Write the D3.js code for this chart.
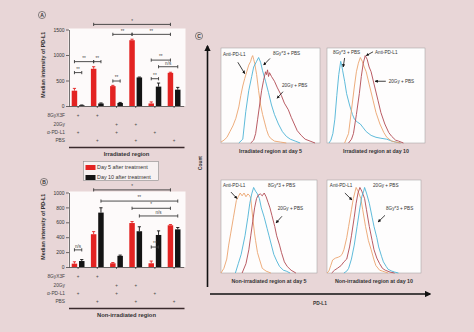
<!DOCTYPE html>
<html>
<head>
<meta charset="utf-8">
<script src="https://cdn.jsdelivr.net/npm/d3@7"></script>
<style>
    body { margin: 0; background: #e8d6d7; }
    svg { display: block; font-family: "Liberation Sans", Arial, sans-serif; }
    .axis text { font-size: 5px; fill: #333; }
    .axis path, .axis line { stroke: #333; stroke-width: 0.7; }
</style>
</head>
<body>
<div id="chart"></div>
<script>

// ---- bar panels (A: irradiated, B: non-irradiated) ----
const groups = ["g1", "g2", "g3", "g4", "g5", "g6"];
const seriesKeys = ["d5", "d10"];
const seriesNames = ["Day 5 after treatment", "Day 10 after treatment"];

const irrDay5 = [300, 730, 390, 1290, 50, 650];
const irrDay10 = [15, 50, 60, 560, 380, 320];
const irrErr5 = [45, 40, 15, 20, 30, 12];
const irrErr10 = [5, 10, 10, 8, 70, 45];
const irrTicks = [0, 500, 1000, 1500];

const nonDay5 = [45, 440, 50, 590, 50, 560];
const nonDay10 = [80, 730, 150, 480, 430, 505];
const nonErr5 = [25, 35, 10, 20, 30, 10];
const nonErr10 = [20, 65, 10, 60, 55, 25];
const nonTicks = [0, 200, 400, 600, 800, 1000];

const treatRows = ["8GyX3F", "20Gy", "\u03b1-PD-L1", "PBS"];
const treatMarks = [
    [1, 1, 0, 0, 0, 0],
    [0, 0, 1, 1, 0, 0],
    [1, 0, 1, 0, 1, 0],
    [0, 1, 0, 1, 0, 1]
];

// [group, series, group, series, level, label]
const irrBrackets = [
    [1, 0, 5, 0, 1600, "*"],
    [2, 0, 3, 0, 1405, "**"],
    [3, 0, 5, 0, 1405, "**"],
    [0, 0, 1, 0, 870, "**"],
    [1, 0, 1, 1, 870, "**"],
    [4, 0, 5, 0, 900, "**"],
    [4, 1, 5, 1, 770, "n/s"],
    [0, 0, 0, 1, 655, "**"],
    [4, 0, 4, 1, 535, "**"],
    [2, 0, 2, 1, 490, "**"]
];
const nonBrackets = [
    [1, 0, 5, 0, 1035, "*"],
    [1, 1, 5, 1, 885, "**"],
    [3, 0, 5, 0, 788, "*"],
    [3, 1, 5, 1, 685, "n/s"],
    [4, 0, 4, 1, 268, "**"],
    [0, 0, 0, 1, 230, "n/s"]
];

// ---- histogram panel C: [x, count] on 0-100 scales ----
const irr5Anti = [[0,1],[3,3],[6,6],[9,12],[12,18],[15,26],[18,38],[20,50],[22,60],[24,68],[26,75],[28,82],[30,86],[31,90],[32,92],[33,88],[34,84],[36,72],[38,55],[40,40],[42,30],[44,22],[46,14],[48,8],[50,5],[54,2],[60,1],[66,0]];
const irr5Gy8 = [[18,0],[22,4],[25,33],[28,55],[31,70],[33,80],[36,86],[38,90],[40,85],[42,76],[45,65],[48,53],[51,40],[54,30],[58,20],[62,12],[66,7],[70,4],[75,2],[80,0]];
const irr5Gy20 = [[30,0],[33,3],[35,10],[37,25],[39,40],[41,55],[43,66],[45,75],[46,72],[47,77],[48,70],[49,74],[51,70],[54,65],[57,58],[61,50],[64,42],[68,35],[71,27],[74,20],[77,13],[81,8],[85,4],[90,2],[95,0]];

const irr10Gy8 = [[2,0],[4,3],[6,10],[8,25],[10,50],[12,72],[14,86],[15,82],[16,76],[18,65],[20,52],[23,40],[26,30],[28,25],[31,22],[34,20],[37,16],[40,12],[45,8],[50,6],[55,5],[61,4],[66,2],[70,1],[75,0]];
const irr10Anti = [[18,0],[22,10],[25,35],[28,60],[30,75],[32,84],[34,90],[36,86],[38,80],[40,75],[43,62],[47,45],[50,32],[54,20],[58,11],[61,6],[66,2],[70,1],[75,0]];
const irr10Gy20 = [[22,0],[25,4],[27,10],[30,30],[33,52],[35,70],[37,84],[39,92],[41,88],[43,80],[45,75],[48,62],[52,45],[55,32],[59,20],[63,11],[66,7],[70,3],[73,2],[78,0]];

const non5Anti = [[0,0],[3,5],[6,15],[8,30],[10,42],[13,60],[16,78],[18,82],[20,86],[22,83],[24,86],[26,82],[28,85],[30,83],[31,80],[33,60],[35,42],[36,35],[38,22],[40,15],[43,5],[47,2],[52,0]];
const non5Gy8 = [[15,0],[18,10],[21,20],[25,40],[28,60],[30,75],[32,85],[34,92],[36,88],[38,85],[40,80],[42,70],[45,60],[48,48],[50,40],[53,28],[55,20],[58,13],[61,7],[65,3],[68,2],[72,0]];
const non5Gy20 = [[22,0],[26,10],[29,25],[31,40],[33,55],[35,70],[37,80],[39,84],[41,85],[43,83],[45,86],[47,82],[49,76],[51,70],[53,62],[56,50],[58,40],[61,30],[63,22],[66,12],[69,7],[73,3],[78,0]];

const non10Anti = [[0,0],[2,2],[4,8],[6,14],[9,16],[12,17],[14,18],[16,20],[18,25],[21,38],[23,50],[26,68],[28,80],[30,88],[31,92],[33,88],[36,80],[38,68],[41,50],[44,35],[47,25],[50,14],[52,8],[56,3],[59,2],[65,0]];
const non10Gy20 = [[5,0],[8,3],[11,5],[15,8],[18,12],[21,15],[24,28],[26,40],[29,60],[31,75],[33,86],[35,92],[37,88],[40,80],[42,68],[45,50],[48,35],[50,25],[53,16],[56,10],[59,5],[62,3],[67,1],[72,0]];
const non10Gy8 = [[18,0],[21,2],[23,5],[26,15],[29,30],[32,50],[35,70],[37,82],[39,88],[40,92],[42,86],[45,75],[48,60],[50,50],[53,38],[55,28],[58,18],[60,12],[63,7],[65,4],[69,2],[72,1],[76,0]];

// curve labels: [text, x, y, arrowFromX, arrowFromY, arrowToX, arrowToY] in panel units
const irr5Labels = [["Anti-PD-L1", 2, 92, 17, 85, 24, 73], ["8Gy*3 + PBS", 52.5, 93, 49.5, 89, 43, 82], ["20Gy + PBS", 61.6, 59, 62.6, 54, 56.6, 47]];
const irr10Labels = [["8Gy*3 + PBS", 6, 93.5, 18, 89.5, 16.5, 80], ["Anti-PD-L1", 49, 93.5, 47, 96, 40, 92], ["20Gy + PBS", 63, 63, 60, 65, 49, 65]];
const non5Labels = [["Anti-PD-L1", 2, 92.5, 10.4, 87, 16.7, 80], ["8Gy*3 + PBS", 49, 92.5], ["20Gy + PBS", 59, 68, 63.5, 61, 57.3, 53.8]];
const non10Labels = [["Anti-PD-L1", 3, 92.5, 19, 86, 26.6, 78.5], ["20Gy + PBS", 49, 92.5], ["8Gy*3 + PBS", 62.8, 68, 61.7, 62, 54.3, 54.8]];

const colors = { d5: "#e32322", d10: "#141414", anti: "#eba46e", gy8: "#4db3d6", gy20: "#b14a52" };

const svg = d3.select("#chart").append("svg")
    .attr("width", 474)
    .attr("height", 332);

svg.append("defs").append("marker")
    .attr("id", "arr")
    .attr("viewBox", "0 0 10 10")
    .attr("refX", 9).attr("refY", 5)
    .attr("markerWidth", 4).attr("markerHeight", 4)
    .attr("orient", "auto")
    .append("path")
    .attr("d", "M0,0 L10,5 L0,10 z")
    .attr("fill", "#111");

function circleLetter(x, y, letter) {
    svg.append("circle").attr("cx", x).attr("cy", y).attr("r", 3.6)
        .attr("fill", "none").attr("stroke", "#444").attr("stroke-width", 0.6);
    svg.append("text").attr("x", x).attr("y", y + 1.8)
        .attr("text-anchor", "middle").attr("font-size", 5).attr("font-weight", "bold")
        .attr("fill", "#333").text(letter);
}

function drawBars(cfg) {
    let x = d3.scaleBand().domain(groups).range([68.5, 183.7]);
    let xs = d3.scaleBand().domain(seriesKeys).range([3.2, 16]).paddingInner(0.25);
    let y = d3.scaleLinear().domain([0, cfg.ticks[cfg.ticks.length - 1]]).range([cfg.bottom, cfg.top]);

    let g = svg.append("g");

    g.append("rect")
        .attr("x", 68.5).attr("y", cfg.top - 1)
        .attr("width", 117).attr("height", cfg.bottom - cfg.top + 1)
        .attr("fill", "#fdfafa");

    let rows = [];
    groups.forEach((gr, i) => {
        rows.push({ g: gr, s: "d5", v: cfg.d5[i], e: cfg.e5[i] });
        rows.push({ g: gr, s: "d10", v: cfg.d10[i], e: cfg.e10[i] });
    });
    let cx = d => x(d.g) + xs(d.s) + xs.bandwidth() / 2;

    // error bars (upper half)
    g.selectAll(".err").data(rows).enter().append("path")
        .attr("d", d => {
            let c = cx(d), t = y(d.v + d.e);
            return `M${c},${y(d.v)}V${t}M${c - 1.6},${t}H${c + 1.6}`;
        })
        .attr("stroke", d => colors[d.s]).attr("stroke-width", 0.9).attr("fill", "none");

    g.selectAll(".bar").data(rows).enter().append("rect")
        .attr("x", d => x(d.g) + xs(d.s))
        .attr("y", d => y(d.v))
        .attr("width", xs.bandwidth())
        .attr("height", d => cfg.bottom - y(d.v))
        .attr("fill", d => colors[d.s]);

    g.append("g").attr("class", "axis")
        .attr("transform", `translate(69,0)`)
        .call(d3.axisLeft(y).tickValues(cfg.ticks).tickFormat(d3.format("d"))
            .tickSize(3).tickPadding(1.5).tickSizeOuter(0));

    g.append("g").attr("class", "axis")
        .attr("transform", `translate(0,${cfg.bottom})`)
        .call(d3.axisBottom(x).tickSize(2).tickFormat("").tickSizeOuter(0));

    g.append("text")
        .attr("transform", `translate(45,${(cfg.top + cfg.bottom) / 2 - 3}) rotate(-90)`)
        .attr("text-anchor", "middle").attr("font-size", 5.4).attr("font-weight", "bold")
        .attr("fill", "#333").text("Median intensity of PD-L1");

    // significance brackets
    let bx = (gi, si) => x(groups[gi]) + xs(seriesKeys[si]) + xs.bandwidth() / 2;
    cfg.brackets.forEach(b => {
        let x1 = bx(b[0], b[1]), x2 = bx(b[2], b[3]), by = y(b[4]);
        g.append("path")
            .attr("d", `M${x1},${by - 1.6}V${by + 1.6}M${x1},${by}H${x2}M${x2},${by - 1.6}V${by + 1.6}`)
            .attr("stroke", "#3a3a3a").attr("stroke-width", 0.9).attr("fill", "none");
        g.append("text")
            .attr("x", (x1 + x2) / 2).attr("y", by - 1.8)
            .attr("text-anchor", "middle").attr("font-size", 4.6)
            .attr("fill", "#444").text(b[5]);
    });

    // treatment table
    treatRows.forEach((r, ri) => {
        let ry = cfg.bottom + 9.5 + ri * 8.4;
        g.append("text").attr("x", 65).attr("y", ry + 1.7)
            .attr("text-anchor", "end").attr("font-size", 4.8).attr("fill", "#444").text(r);
        g.selectAll(null).data(groups.filter((gr, i) => treatMarks[ri][i])).enter()
            .append("text")
            .attr("x", d => x(d) + x.bandwidth() / 2)
            .attr("y", ry + 1.6)
            .attr("text-anchor", "middle").attr("font-size", 4.5).attr("fill", "#444")
            .text("+");
    });

    g.append("line")
        .attr("x1", 69).attr("x2", 184.5)
        .attr("y1", cfg.bottom + 41.5).attr("y2", cfg.bottom + 41.5)
        .attr("stroke", "#3a2a2c").attr("stroke-width", 1.3);
    g.append("text")
        .attr("x", 126.5).attr("y", cfg.bottom + 50)
        .attr("text-anchor", "middle").attr("font-size", 5.8).attr("font-weight", "bold")
        .attr("fill", "#333").text(cfg.region);
}

drawBars({ top: 29.5, bottom: 106, ticks: irrTicks, d5: irrDay5, d10: irrDay10, e5: irrErr5, e10: irrErr10,
    brackets: irrBrackets, region: "Irradiated region" });
drawBars({ top: 192.5, bottom: 267, ticks: nonTicks, d5: nonDay5, d10: nonDay10, e5: nonErr5, e10: nonErr10,
    brackets: nonBrackets, region: "Non-irradiated region" });

circleLetter(42, 15, "A");
circleLetter(44, 182, "B");
circleLetter(199, 36, "C");

// legend
let legend = svg.append("g").attr("transform", "translate(83.5,161.5)");
legend.append("rect").attr("width", 75).attr("height", 19)
    .attr("fill", "#f7f1f1").attr("stroke", "#8a8a8a").attr("stroke-width", 0.6);
seriesKeys.forEach((k, i) => {
    legend.append("rect").attr("x", 2).attr("y", 3.5 + i * 10).attr("width", 10).attr("height", 5)
        .attr("fill", colors[k]);
    legend.append("text").attr("x", 13.5).attr("y", 7.8 + i * 10)
        .attr("font-size", 5.4).attr("fill", "#333").text(seriesNames[i]);
});

// ---- panel C ----
function drawHist(frame, curves, labels, title) {
    let x = d3.scaleLinear().domain([0, 100]).range([frame[0], frame[0] + frame[2]]);
    let y = d3.scaleLinear().domain([0, 100]).range([frame[1] + frame[3], frame[1]]);
    let g = svg.append("g");

    g.append("rect")
        .attr("x", frame[0]).attr("y", frame[1]).attr("width", frame[2]).attr("height", frame[3])
        .attr("fill", "#fefdfd").attr("stroke", "#9a9a9a").attr("stroke-width", 0.5);

    let line = d3.line().x(d => x(d[0])).y(d => y(d[1]));
    curves.forEach(c => {
        g.append("path").datum(c[0])
            .attr("d", line)
            .attr("fill", "none").attr("stroke", colors[c[1]]).attr("stroke-width", 0.9);
    });

    labels.forEach(l => {
        g.append("text").attr("x", x(l[1])).attr("y", y(l[2]))
            .attr("font-size", 4.6).attr("fill", "#333").text(l[0]);
        if (l.length > 3) {
            g.append("line")
                .attr("x1", x(l[3])).attr("y1", y(l[4]))
                .attr("x2", x(l[5])).attr("y2", y(l[6]))
                .attr("stroke", "#111").attr("stroke-width", 0.8)
                .attr("marker-end", "url(#arr)");
        }
    });

    g.append("text")
        .attr("x", frame[0] + frame[2] / 2).attr("y", frame[1] + frame[3] + 10)
        .attr("text-anchor", "middle").attr("font-size", 5.3).attr("font-weight", "bold")
        .attr("fill", "#333").text(title);
}

drawHist([221, 48, 99, 95], [[irr5Anti, "anti"], [irr5Gy8, "gy8"], [irr5Gy20, "gy20"]], irr5Labels, "Irradiated region at day 5");
drawHist([327, 48, 98, 95], [[irr10Gy8, "gy8"], [irr10Anti, "anti"], [irr10Gy20, "gy20"]], irr10Labels, "Irradiated region at day 10");
drawHist([221, 180, 96, 93], [[non5Anti, "anti"], [non5Gy8, "gy8"], [non5Gy20, "gy20"]], non5Labels, "Non-irradiated region at day 5");
drawHist([327, 180, 94, 93], [[non10Anti, "anti"], [non10Gy20, "gy20"], [non10Gy8, "gy8"]], non10Labels, "Non-irradiated region at day 10");

// count / PD-L1 arrows
svg.append("defs").append("marker")
    .attr("id", "bigarr")
    .attr("viewBox", "0 0 10 10")
    .attr("refX", 8).attr("refY", 5)
    .attr("markerWidth", 4).attr("markerHeight", 4)
    .attr("orient", "auto")
    .append("path")
    .attr("d", "M0,0 L10,5 L0,10 z")
    .attr("fill", "#111");

svg.append("line").attr("x1", 207.5).attr("y1", 287).attr("x2", 207.5).attr("y2", 46)
    .attr("stroke", "#111").attr("stroke-width", 1.6).attr("marker-end", "url(#bigarr)");
svg.append("line").attr("x1", 210).attr("y1", 294).attr("x2", 430).attr("y2", 294)
    .attr("stroke", "#111").attr("stroke-width", 1.6).attr("marker-end", "url(#bigarr)");

svg.append("text")
    .attr("transform", "translate(201.5,163) rotate(-90)")
    .attr("text-anchor", "middle").attr("font-size", 4.8).attr("font-weight", "bold")
    .attr("fill", "#333").text("Count");
svg.append("text")
    .attr("x", 320).attr("y", 305)
    .attr("text-anchor", "middle").attr("font-size", 4.8).attr("font-weight", "bold")
    .attr("fill", "#333").text("PD-L1");

</script>
</body>
</html>
